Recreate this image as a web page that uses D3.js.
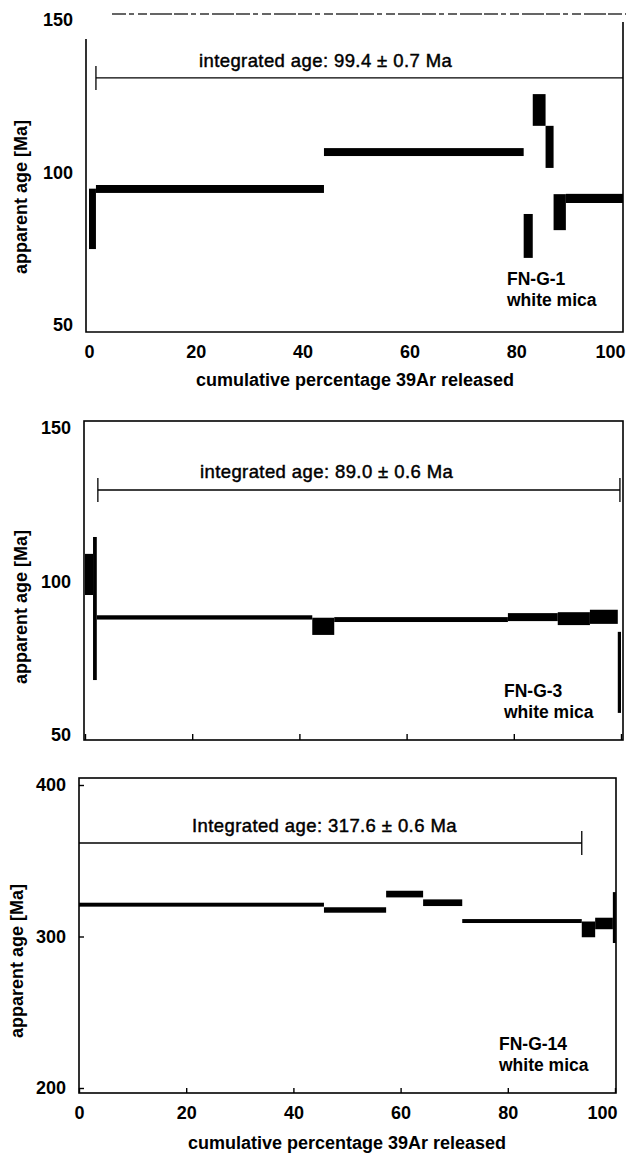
<!DOCTYPE html>
<html>
<head>
<meta charset="utf-8">
<script src="https://cdn.jsdelivr.net/npm/d3@7"></script>
<style>
  body { margin: 0; background: #fff; }
  svg { display: block; font-family: "Liberation Sans", Arial, sans-serif; }
</style>
</head>
<body>
<svg id="chart" width="626" height="1154"></svg>
<script>
// step boundaries (cumulative % 39Ar), apparent ages and half-errors [Ma]
const g1Steps = [0, 1.3, 44, 81.4, 83.1, 85.5, 87, 89.3, 100];
const g1Ages = [84.8, 94.6, 106.7, 79.2, 120.5, 108.4, 87.0, 91.5];
const g1Errs = [9.9, 1.3, 1.3, 7.2, 5.2, 6.9, 5.9, 1.5];
const g1Integrated = [1.3, 100]; // span of the integrated-age bar
const g1IntLevel = 131;

const g3Steps = [0, 1.5, 2.2, 42.4, 46.5, 78.9, 88.2, 94.2, 99.4, 100];
const g3Ages = [102.3, 91.2, 88.3, 85.4, 87.6, 88.4, 87.9, 88.5, 70.4];
const g3Errs = [6.7, 23.3, 0.7, 2.8, 0.8, 1.3, 2.1, 2.3, 13.2];
const g3Integrated = [2.4, 99.8];
const g3IntLevel = 129.8;

const g14Steps = [0, 45.7, 57.3, 64.2, 71.5, 93.8, 96.3, 99.6, 100];
const g14Ages = [321.0, 317.5, 328.0, 322.3, 310.2, 304.7, 308.6, 312.5];
const g14Errs = [1.3, 1.8, 2.2, 2.2, 1.3, 5.2, 3.8, 16.8];
const g14Integrated = [0, 93.8];
const g14IntLevel = 361.7;

const xTicks = [0, 20, 40, 60, 80, 100];
const yTicksLow = [50, 100, 150];
const yTicksHigh = [200, 300, 400];

const xTitle = "cumulative percentage 39Ar released";
const yTitle = "apparent age [Ma]";

const svg = d3.select("#chart");

function drawPanel(p) {
    const x = d3.scaleLinear().domain([0, 100]).range([p.x0, p.x100]);
    const y = d3.scaleLinear().domain(p.yDomain).range(p.yRange);
    const g = svg.append("g");

    // frame
    if (p.fullFrame) {
        g.append("rect")
            .attr("x", p.left).attr("y", p.top)
            .attr("width", p.right - p.left).attr("height", p.bottom - p.top)
            .attr("fill", "none").attr("stroke", "#000").attr("stroke-width", 1.6);
    } else {
        g.append("path")
            .attr("d", `M${p.left},${p.leftTop}V${p.bottom}H${p.right}V${p.rightTop}`)
            .attr("fill", "none").attr("stroke", "#000").attr("stroke-width", 1.6);
        // faint broken top edge of the scan
        g.append("line")
            .attr("x1", 112).attr("x2", 626).attr("y1", p.top).attr("y2", p.top)
            .attr("stroke", "#333").attr("stroke-width", 1.3)
            .attr("stroke-dasharray", "14,3,5,4,9,3,22,2");
    }

    // age spectrum steps
    const boxes = p.ages.map((a, i) => ({
        from: p.steps[i], to: p.steps[i + 1], hi: a + p.errs[i], lo: a - p.errs[i]
    }));
    g.selectAll("rect.step")
        .data(boxes)
        .enter()
        .append("rect")
        .attr("class", "step")
        .attr("x", (d) => x(d.from))
        .attr("width", (d) => Math.max(x(d.to) - x(d.from), 3))
        .attr("y", (d) => y(d.hi))
        .attr("height", (d) => y(d.lo) - y(d.hi))
        .attr("fill", "#000");

    // integrated age bar
    const yi = y(p.intLevel);
    g.append("line")
        .attr("x1", x(p.integrated[0])).attr("x2", x(p.integrated[1]))
        .attr("y1", yi).attr("y2", yi)
        .attr("stroke", "#000").attr("stroke-width", 1.3);
    p.caps.forEach((c, i) => {
        if (!c) return;
        g.append("line")
            .attr("x1", x(p.integrated[i])).attr("x2", x(p.integrated[i]))
            .attr("y1", yi - 12).attr("y2", yi + 12)
            .attr("stroke", "#000").attr("stroke-width", 1.3);
    });
    g.append("text")
        .attr("x", p.intText[0]).attr("y", p.intText[1])
        .attr("font-size", 18.5).attr("fill", "#000")
        .attr("letter-spacing", 0.4)
        .attr("stroke", "#000").attr("stroke-width", 0.45)
        .text(p.intLabel);

    // sample label
    p.sample.forEach((s, i) => {
        g.append("text")
            .attr("x", p.sampleXY[0]).attr("y", p.sampleXY[1] + i * 21)
            .attr("font-size", 17.5).attr("font-weight", "bold")
            .text(s);
    });

    // axes
    const xAxis = d3.axisBottom(x)
        .tickValues(xTicks)
        .tickSize(-p.xTick)
        .tickPadding(13);
    if (!p.xLabels) xAxis.tickFormat("");
    const gx = g.append("g")
        .attr("transform", `translate(0,${p.bottom})`)
        .call(xAxis);
    gx.select(".domain").remove();
    gx.selectAll("line").attr("stroke", "#000").attr("stroke-width", 1.4);
    gx.selectAll("text")
        .attr("font-size", 18).attr("font-weight", "bold")
        .attr("font-family", "Liberation Sans, Arial, sans-serif").attr("fill", "#000");
    gx.selectAll("text").filter((d) => d === 100)
        .attr("text-anchor", "end").attr("dx", 2);

    const yAxis = d3.axisLeft(y)
        .tickValues(p.yTicks)
        .tickSize(-p.yTick)
        .tickPadding(13);
    const gy = g.append("g")
        .attr("transform", `translate(${p.left},0)`)
        .call(yAxis);
    gy.select(".domain").remove();
    gy.selectAll("line").attr("stroke", "#000").attr("stroke-width", 1.4);
    gy.selectAll("text")
        .attr("font-size", 18).attr("font-weight", "bold")
        .attr("font-family", "Liberation Sans, Arial, sans-serif").attr("fill", "#000");

    // titles
    g.append("text")
        .attr("transform", `translate(${p.yTitleXY[0]},${p.yTitleXY[1]}) rotate(-90)`)
        .attr("text-anchor", "middle")
        .attr("font-size", 18).attr("font-weight", "bold")
        .text(yTitle);
    if (p.xTitleXY) {
        g.append("text")
            .attr("x", p.xTitleXY[0]).attr("y", p.xTitleXY[1])
            .attr("text-anchor", "middle")
            .attr("font-size", 18).attr("font-weight", "bold")
            .text(xTitle);
    }
}

drawPanel({
    steps: g1Steps, ages: g1Ages, errs: g1Errs,
    integrated: g1Integrated, intLevel: g1IntLevel, caps: [true, false],
    intLabel: "integrated age: 99.4 ± 0.7 Ma", intText: [199, 67],
    sample: ["FN-G-1", "white mica"], sampleXY: [507, 285],
    x0: 89, x100: 623, yDomain: [50, 150], yRange: [325, 20], yTicks: yTicksLow,
    left: 86, right: 623, top: 14, bottom: 332, leftTop: 39, rightTop: 22,
    fullFrame: false, xTick: 0, yTick: 0, xLabels: true,
    yTitleXY: [27, 197], xTitleXY: [355, 386]
});

drawPanel({
    steps: g3Steps, ages: g3Ages, errs: g3Errs,
    integrated: g3Integrated, intLevel: g3IntLevel, caps: [true, true],
    intLabel: "integrated age: 89.0 ± 0.6 Ma", intText: [200, 478],
    sample: ["FN-G-3", "white mica"], sampleXY: [504, 697],
    x0: 85, x100: 621, yDomain: [50, 150], yRange: [735, 428], yTicks: yTicksLow,
    left: 84, right: 623, top: 421, bottom: 740,
    fullFrame: true, xTick: 6, yTick: 0, xLabels: false,
    yTitleXY: [27, 607], xTitleXY: null
});

drawPanel({
    steps: g14Steps, ages: g14Ages, errs: g14Errs,
    integrated: g14Integrated, intLevel: g14IntLevel, caps: [false, true],
    intLabel: "Integrated age: 317.6 ± 0.6 Ma", intText: [192, 832],
    sample: ["FN-G-14", "white mica"], sampleXY: [499, 1050],
    x0: 79, x100: 615, yDomain: [200, 400], yRange: [1088, 785], yTicks: yTicksHigh,
    left: 79, right: 616, top: 778, bottom: 1093,
    fullFrame: true, xTick: 5, yTick: 5, xLabels: true,
    yTitleXY: [23, 961], xTitleXY: [347, 1149]
});
</script>
</body>
</html>
